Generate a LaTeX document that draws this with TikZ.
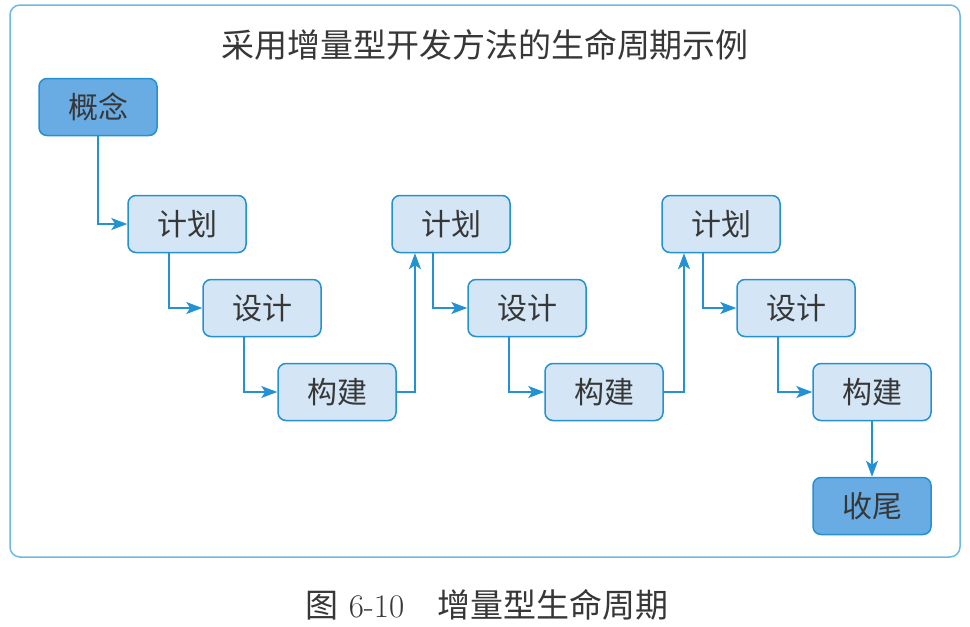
\documentclass[tikz,border=0pt]{standalone}
\usepackage{fontspec}
\newfontfamily\cjk{Noto Sans CJK SC}
\usepackage{tikz}
\usetikzlibrary{arrows.meta, positioning}
\usepackage{xcolor}
\definecolor{framecol}{RGB}{110,185,225}
\definecolor{linecol}{RGB}{35,145,210}
\definecolor{lightfill}{RGB}{212,230,246}
\definecolor{darkfill}{RGB}{105,172,228}
\definecolor{textcol}{RGB}{55,55,55}

\begin{document}
\begin{tikzpicture}[x=1pt, y=1pt, on grid,
    stage/.style={draw=linecol, line width=1.5pt, rounded corners=8pt, fill=lightfill,
        minimum width=118pt, minimum height=57pt, text=textcol,
        font=\cjk\fontsize{30}{33}\selectfont},
    endstage/.style={stage, fill=darkfill},
    flow/.style={draw=linecol, line width=1.5pt, -{Stealth[length=16pt, width=12pt, inset=4pt]}}]
            \useasboundingbox (0,0) rectangle (970,-627);
            % Frame and title
            \draw[framecol, line width=1.5pt, rounded corners=10pt] (10,-5) rectangle (960,-557);
            \node[text=textcol, font=\cjk\fontsize{33}{36}\selectfont] (title) at (485,-45) {采用增量型开发方法的生命周期示例};
            % Nodes
            \node[endstage] (concept) at (98,-107) {概念};
            \node[stage, below right=117 and 89 of concept] (plan1) {计划};
            \node[stage, below right=84 and 75 of plan1] (design1) {设计};
            \node[stage, below right=84 and 75 of design1] (build1) {构建};
            \node[stage, above right=168 and 114 of build1] (plan2) {计划};
            \node[stage, below right=84 and 76 of plan2] (design2) {设计};
            \node[stage, below right=84 and 77 of design2] (build2) {构建};
            \node[stage, above right=168 and 117 of build2] (plan3) {计划};
            \node[stage, below right=84 and 75 of plan3] (design3) {设计};
            \node[stage, below right=84 and 76 of design3] (build3) {构建};
            \node[endstage, below=114 of build3] (finish) {收尾};
            % Arrows
            \draw[flow] (concept.south) |- (plan1.west);
            \draw[flow] ([xshift=-18pt]plan1.south) |- (design1.west);
            \draw[flow] ([xshift=-18pt]design1.south) |- (build1.west);
            \draw[flow] (build1.east) -| ([xshift=-36pt]plan2.south);
            \draw[flow] ([xshift=-18pt]plan2.south) |- (design2.west);
            \draw[flow] ([xshift=-18pt]design2.south) |- (build2.west);
            \draw[flow] (build2.east) -| ([xshift=-37pt]plan3.south);
            \draw[flow] ([xshift=-18pt]plan3.south) |- (design3.west);
            \draw[flow] ([xshift=-18pt]design3.south) |- (build3.west);
            \draw[flow] (build3) -- (finish);
            % Caption
            \node[text=textcol, font=\fontsize{33}{36}\selectfont] (caption) at (487,-605) {{\cjk 图}\ 6-10\quad{\cjk 增量型生命周期}};
        \end{tikzpicture}
\end{document}
